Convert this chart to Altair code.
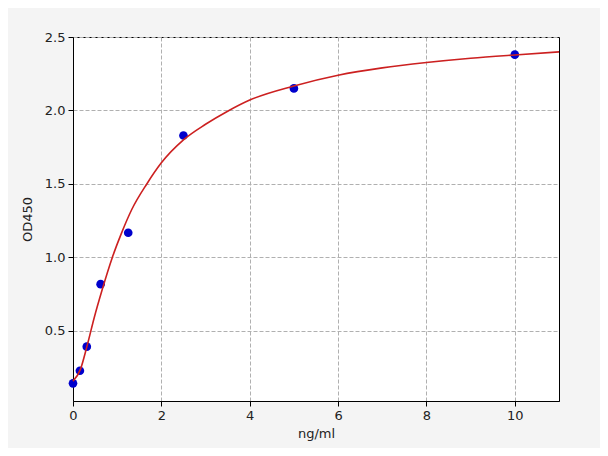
import pandas as pd
import altair as alt

# standard points
conc = [0, 0.156, 0.312, 0.625, 1.25, 2.5, 5, 10]
od = [0.143, 0.229, 0.393, 0.818, 1.168, 1.83, 2.15, 2.38]

# fitted curve
fit_x = [0, 0.17, 0.32, 0.48, 0.66, 0.89, 1.10, 1.33, 1.67, 2.0, 2.5, 3.0, 3.5, 4,
         5, 6, 7, 8, 9, 10, 11]
fit_y = [0.158, 0.24, 0.40, 0.59, 0.78, 1.0, 1.167, 1.326, 1.50, 1.644, 1.80, 1.906, 1.995,
         2.071, 2.167, 2.24, 2.29, 2.326, 2.355, 2.378, 2.399]

pts = pd.DataFrame({"x": conc, "y": od})
curve = pd.DataFrame({"x": fit_x, "y": fit_y})

xs = alt.Scale(domain=[0, 11], nice=False, zero=False)
ys = alt.Scale(domain=[0.023, 2.5], nice=False, zero=False)

x_axis = alt.Axis(values=[0, 2, 4, 6, 8, 10], title="ng/ml", format="d")
y_axis = alt.Axis(values=[0.5, 1.0, 1.5, 2.0, 2.5], title="OD450", format=".1f")

line = alt.Chart(curve).mark_line(color="#cc2020", strokeWidth=1.6, interpolate="monotone").encode(
    x=alt.X("x:Q", scale=xs, axis=x_axis),
    y=alt.Y("y:Q", scale=ys, axis=y_axis),
)

dots = alt.Chart(pts).mark_point(filled=True, color="#0000cc", opacity=1, size=75).encode(
    x=alt.X("x:Q", scale=xs),
    y=alt.Y("y:Q", scale=ys),
)

chart = (dots + line).properties(
    width=486, height=364,
    autosize=alt.AutoSizeParams(type="none"),
    padding={"left": 65, "top": 29, "right": 41, "bottom": 47},
    background="#f4f4f4",
).configure_view(
    fill="white", stroke="black", strokeWidth=1
).configure_axis(
    domainColor="black", tickColor="black", tickSize=5, labelPadding=3,
    labelFlush=False, labelOverlap=False,
    labelFont="DejaVu Sans", titleFont="DejaVu Sans", labelFontSize=13,
    titleFontSize=13, titleFontWeight="normal", labelColor="#222", titleColor="#222",
    gridColor="#b0b0b0", gridDash=[4, 2], gridWidth=1,
).configure_axisY(titlePadding=10).configure_axisX(titlePadding=5)

chart.save("out.html", embed_options={"renderer": "svg", "actions": False})
